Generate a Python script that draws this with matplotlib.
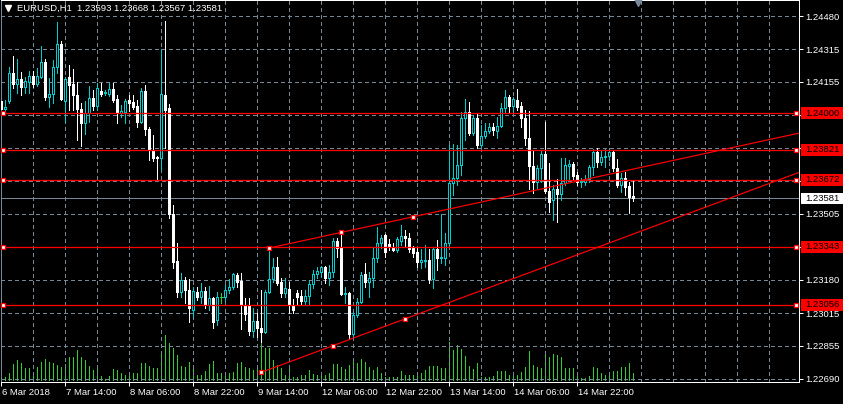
import matplotlib
matplotlib.use('Agg')
import matplotlib.pyplot as plt
from matplotlib.patches import Rectangle
from matplotlib.lines import Line2D
from matplotlib.transforms import blended_transform_factory, ScaledTranslation

W, H = 843, 404

symbol = 'EURUSD,H1'
opens = [1.24061, 1.24021, 1.24061, 1.24199, 1.24145, 1.24169, 1.24130, 1.24155, 1.24184, 1.24145,
         1.24179, 1.24253, 1.24081, 1.24095, 1.24229, 1.24342, 1.24061, 1.24179, 1.24145, 1.24091,
         1.24021, 1.23952, 1.24002, 1.24076, 1.24036, 1.24110, 1.24100, 1.24095, 1.24120, 1.24071,
         1.24002, 1.24007, 1.24066, 1.24056, 1.24036, 1.23957, 1.24110, 1.23923, 1.23819, 1.23785,
         1.23780, 1.24091, 1.24026, 1.23504, 1.23272, 1.23119, 1.23178, 1.23129, 1.23030, 1.23119,
         1.23094, 1.23124, 1.23055, 1.23090, 1.22981, 1.23094, 1.23094, 1.23129, 1.23144, 1.23203,
         1.23173, 1.23055, 1.23055, 1.22927, 1.22976, 1.22942, 1.22922, 1.23119, 1.23183, 1.23242,
         1.23168, 1.23114, 1.23134, 1.23055, 1.23114, 1.23099, 1.23075, 1.23099, 1.23159, 1.23208,
         1.23218, 1.23242, 1.23188, 1.23218, 1.23371, 1.23336, 1.23109, 1.23114, 1.22912, 1.23006,
         1.23070, 1.23208, 1.23168, 1.23188, 1.23287, 1.23361, 1.23400, 1.23356, 1.23341, 1.23326,
         1.23371, 1.23395, 1.23385, 1.23341, 1.23316, 1.23267, 1.23272, 1.23277, 1.23183, 1.23331,
         1.23287, 1.23287, 1.23361, 1.23657, 1.23681, 1.23745, 1.23977, 1.24007, 1.23903, 1.23977,
         1.23844, 1.23888, 1.23913, 1.23933, 1.23913, 1.23938, 1.24026, 1.24081, 1.24036, 1.24066,
         1.24036, 1.23977, 1.23879, 1.23740, 1.23662, 1.23731, 1.23800, 1.23617, 1.23573, 1.23627,
         1.23602, 1.23657, 1.23740, 1.23750, 1.23696, 1.23662, 1.23662, 1.23676, 1.23735, 1.23810,
         1.23760, 1.23785, 1.23790, 1.23810, 1.23731, 1.23647, 1.23681, 1.23642, 1.23593]
highs = [1.24071, 1.24066, 1.24229, 1.24283, 1.24268, 1.24204, 1.24179, 1.24209, 1.24209, 1.24224,
         1.24332, 1.24268, 1.24174, 1.24263, 1.24450, 1.24357, 1.24179, 1.24238, 1.24219, 1.24155,
         1.24051, 1.24061, 1.24135, 1.24115, 1.24150, 1.24150, 1.24115, 1.24150, 1.24150, 1.24091,
         1.24041, 1.24071, 1.24091, 1.24091, 1.24066, 1.24125, 1.24140, 1.23933, 1.23893, 1.23790,
         1.24317, 1.24455, 1.24046, 1.23548, 1.23361, 1.23213, 1.23193, 1.23183, 1.23144, 1.23144,
         1.23163, 1.23144, 1.23149, 1.23094, 1.23119, 1.23114, 1.23154, 1.23183, 1.23213, 1.23213,
         1.23213, 1.23090, 1.23090, 1.23040, 1.23016, 1.23129, 1.23129, 1.23326, 1.23287, 1.23292,
         1.23188, 1.23188, 1.23168, 1.23085, 1.23129, 1.23129, 1.23129, 1.23178, 1.23228, 1.23242,
         1.23247, 1.23247, 1.23252, 1.23385, 1.23385, 1.23410, 1.23144, 1.23119, 1.23021, 1.23090,
         1.23218, 1.23262, 1.23218, 1.23336, 1.23440, 1.23400, 1.23405, 1.23381, 1.23361, 1.23390,
         1.23450, 1.23425, 1.23410, 1.23346, 1.23341, 1.23331, 1.23351, 1.23331, 1.23336, 1.23376,
         1.23504, 1.23410, 1.23844, 1.23849, 1.23844, 1.24007, 1.24071, 1.24056, 1.23992, 1.23997,
         1.23943, 1.23952, 1.23952, 1.23952, 1.23982, 1.24051, 1.24115, 1.24091, 1.24081, 1.24120,
         1.24056, 1.24017, 1.24012, 1.23819, 1.23745, 1.23819, 1.23957, 1.23755, 1.23647, 1.23676,
         1.23780, 1.23780, 1.23770, 1.23760, 1.23711, 1.23681, 1.23696, 1.23745, 1.23824, 1.23829,
         1.23819, 1.23824, 1.23824, 1.23819, 1.23775, 1.23706, 1.23711, 1.23662, 1.23668]
lows = [1.24007, 1.24012, 1.24051, 1.24125, 1.24100, 1.24091, 1.24100, 1.24100, 1.24130, 1.24135,
        1.24174, 1.24066, 1.24031, 1.24051, 1.24199, 1.24066, 1.23957, 1.24017, 1.24017, 1.23869,
        1.23839, 1.23898, 1.23957, 1.24017, 1.24017, 1.24086, 1.24091, 1.24086, 1.24056, 1.23952,
        1.23982, 1.23952, 1.24012, 1.24021, 1.23933, 1.23952, 1.23893, 1.23770, 1.23765, 1.23676,
        1.23721, 1.23829, 1.23484, 1.23237, 1.23094, 1.23094, 1.23065, 1.22971, 1.22996, 1.23080,
        1.23065, 1.23040, 1.23030, 1.22942, 1.22956, 1.23065, 1.23075, 1.23114, 1.23134, 1.23144,
        1.22937, 1.22981, 1.22907, 1.22897, 1.22897, 1.22873, 1.22917, 1.23114, 1.23168, 1.23154,
        1.23094, 1.23094, 1.23016, 1.23016, 1.23055, 1.23055, 1.23055, 1.23055, 1.23139, 1.23188,
        1.23193, 1.23163, 1.23154, 1.23193, 1.23292, 1.23104, 1.23065, 1.22892, 1.22892, 1.22996,
        1.23065, 1.23144, 1.23094, 1.23144, 1.23267, 1.23336, 1.23292, 1.23326, 1.23321, 1.23316,
        1.23351, 1.23341, 1.23316, 1.23292, 1.23242, 1.23237, 1.23242, 1.23163, 1.23139, 1.23228,
        1.23262, 1.23252, 1.23351, 1.23597, 1.23647, 1.23696, 1.23869, 1.23893, 1.23893, 1.23829,
        1.23834, 1.23879, 1.23903, 1.23893, 1.23879, 1.23933, 1.24002, 1.24007, 1.24002, 1.24017,
        1.23933, 1.23844, 1.23627, 1.23607, 1.23632, 1.23662, 1.23607, 1.23514, 1.23474, 1.23464,
        1.23573, 1.23647, 1.23676, 1.23671, 1.23647, 1.23637, 1.23647, 1.23662, 1.23696, 1.23735,
        1.23745, 1.23735, 1.23770, 1.23716, 1.23637, 1.23612, 1.23597, 1.23509, 1.23567]
closes = [1.24021, 1.24031, 1.24199, 1.24145, 1.24169, 1.24130, 1.24160, 1.24184, 1.24145, 1.24184,
          1.24253, 1.24081, 1.24095, 1.24229, 1.24342, 1.24071, 1.24169, 1.24140, 1.24091, 1.24021,
          1.23952, 1.24002, 1.24076, 1.24036, 1.24125, 1.24095, 1.24105, 1.24120, 1.24066, 1.24002,
          1.24012, 1.24061, 1.24051, 1.24031, 1.23957, 1.24110, 1.23923, 1.23819, 1.23780, 1.23780,
          1.24095, 1.24017, 1.23504, 1.23267, 1.23119, 1.23178, 1.23129, 1.23040, 1.23124, 1.23094,
          1.23124, 1.23055, 1.23090, 1.22971, 1.23094, 1.23094, 1.23129, 1.23144, 1.23208, 1.23168,
          1.23055, 1.23011, 1.22927, 1.22976, 1.22942, 1.22922, 1.23119, 1.23183, 1.23242, 1.23163,
          1.23114, 1.23139, 1.23055, 1.23030, 1.23094, 1.23075, 1.23099, 1.23159, 1.23208, 1.23223,
          1.23242, 1.23188, 1.23218, 1.23371, 1.23336, 1.23109, 1.23114, 1.22912, 1.23006, 1.23070,
          1.23203, 1.23168, 1.23188, 1.23287, 1.23361, 1.23385, 1.23316, 1.23341, 1.23326, 1.23381,
          1.23395, 1.23385, 1.23331, 1.23312, 1.23267, 1.23277, 1.23277, 1.23183, 1.23331, 1.23287,
          1.23292, 1.23361, 1.23657, 1.23681, 1.23745, 1.23977, 1.24007, 1.23903, 1.23977, 1.23844,
          1.23888, 1.23913, 1.23933, 1.23918, 1.23938, 1.24026, 1.24081, 1.24036, 1.24071, 1.24031,
          1.23977, 1.23879, 1.23740, 1.23662, 1.23731, 1.23800, 1.23617, 1.23563, 1.23627, 1.23602,
          1.23657, 1.23745, 1.23750, 1.23691, 1.23662, 1.23666, 1.23676, 1.23735, 1.23810, 1.23760,
          1.23785, 1.23790, 1.23810, 1.23731, 1.23647, 1.23681, 1.23637, 1.23588, 1.23581]
volumes = [730, 330, 670, 1600, 2000, 1730, 1170, 1170, 830, 1330,
           1830, 2070, 1830, 1670, 1500, 1330, 1600, 2270, 2270, 3000,
           2330, 2000, 1400, 1000, 1170, 400, 100, 400, 1070, 1000,
           730, 500, 670, 670, 670, 1730, 1730, 1400, 1170, 1170,
           2670, 4500, 3670, 3170, 2500, 1400, 1270, 1830, 1400, 500,
           500, 930, 1600, 1930, 670, 670, 830, 730, 830, 1730,
           1830, 1330, 1170, 1000, 1270, 4000, 3170, 3170, 2000, 1500,
           1170, 500, 1400, 330, 330, 500, 500, 1000, 600, 500,
           830, 500, 670, 1600, 1600, 1330, 1070, 1500, 2070, 1670,
           2070, 1830, 1330, 1000, 1270, 670, 330, 330, 270, 330,
           930, 500, 500, 500, 500, 670, 1000, 1400, 1400, 1400,
           1170, 1170, 3830, 3000, 3500, 3070, 2400, 1400, 1070, 1730,
           270, 270, 330, 400, 930, 930, 930, 500, 500, 500,
           830, 1330, 2930, 1500, 1270, 1170, 2600, 2330, 2600, 2500,
           2330, 1170, 1170, 1170, 830, 170, 170, 400, 1270, 1170,
           670, 500, 400, 930, 930, 1270, 1270, 1730, 670]

time_labels = ['6 Mar 2018', '7 Mar 14:00', '8 Mar 06:00', '8 Mar 22:00', '9 Mar 14:00',
               '12 Mar 06:00', '12 Mar 22:00', '13 Mar 14:00', '14 Mar 06:00', '14 Mar 22:00']
time_bars = [0, 16, 32, 48, 64, 80, 96, 112, 128, 144]
price_ticks = [1.24480, 1.24315, 1.24155, 1.23990, 1.23830, 1.23665, 1.23505, 1.23340,
               1.23180, 1.23015, 1.22855, 1.22690]
h_levels = [1.24000, 1.23821, 1.23672, 1.23343, 1.23056]
trend_upper = [(67, 1.23336), (103, 1.23490)]
trend_lower = [(65, 1.22723), (101, 1.22987)]

BULL = '#00CED1'
BEAR = '#FFFFFF'
DOJI = '#32CD32'
VOLC = '#32CD32'
GRID = '#778899'
RED = '#FF0000'
PX = 0.72  # one pixel in points

fig = plt.figure(figsize=(W / 100, H / 100), dpi=100, facecolor='black')
left_px, right_px, top_px, bot_px = 0.5, 799.0, 0.0, 382.0
rect = [left_px / W, 1 - bot_px / H, (right_px - left_px) / W, (bot_px - top_px) / H]
axv = fig.add_axes(rect)
axv.set_facecolor('black')
ax = fig.add_axes(rect, sharex=axv)
ax.patch.set_visible(False)
axv.set_zorder(0)
ax.set_zorder(1)

n = len(opens)
x0 = 1.3
xmin = (left_px - x0) / 4.0
xmax = (right_px - x0) / 4.0
ax.set_xlim(xmin, xmax)
ymin, ymax = 1.226752, 1.245589
ax.set_ylim(ymin, ymax)
axv.set_ylim(-200, 38000)
axv.axis('off')
pxy = (ymax - ymin) / (bot_px - top_px)

# grid
for gx in range(0, 200, 8):
    ax.axvline(gx, color=GRID, lw=PX, ls=(0, (4, 3)), zorder=0.5, antialiased=False)
for gy in price_ticks:
    ax.axhline(gy, color=GRID, lw=PX, ls=(0, (4, 3)), zorder=0.5, antialiased=False)

# volumes
axv.vlines(range(n), 0, volumes, color=VOLC, lw=PX, antialiased=False)

# candles
for i in range(n):
    o, h, l, c = opens[i], highs[i], lows[i], closes[i]
    if c > o:
        col = BULL
    elif c < o:
        col = BEAR
    else:
        col = DOJI
    ax.vlines(i, l, h, color=col, lw=PX, zorder=2, antialiased=False)
    if c > o:
        ax.add_patch(Rectangle((i - 0.25, o), 0.5, c - o, facecolor='black', edgecolor=col,
                               lw=PX, zorder=3, antialiased=False))
    elif c < o:
        ax.add_patch(Rectangle((i - 0.25, c), 0.5, o - c, facecolor=col, edgecolor=col,
                               lw=PX, zorder=3, antialiased=False))
    else:
        ax.hlines(o, i - 0.375, i + 0.375, color=col, lw=PX, zorder=3, antialiased=False)

# current price line
last_price = closes[-1]
ax.axhline(last_price, color=GRID, lw=PX, zorder=1.5, snap=True)

# horizontal levels
lm = (3.3 - x0) / 4.0
rm = (796.3 - x0) / 4.0
for lv in h_levels:
    ax.axhline(lv, color=RED, lw=PX * 1.3, zorder=4, snap=True)
    ax.plot([lm, rm], [lv, lv], ls='none', marker='s', ms=3.3, mfc='white', mec=RED,
            mew=0.9, zorder=6, clip_on=False)

# trend lines (rays)
for (b1, p1), (b2, p2) in (trend_upper, trend_lower):
    slope = (p2 - p1) / (b2 - b1)
    ax.plot([b1, xmax], [p1, p1 + slope * (xmax - b1)], color=RED, lw=PX * 1.2, zorder=4)
    mids = [b1, (b1 + b2) / 2, b2]
    ax.plot(mids, [p1 + slope * (m - b1) for m in mids], ls='none', marker='s', ms=3.3,
            mfc='white', mec=RED, mew=0.9, zorder=6)

# spines
for s in ax.spines.values():
    s.set_color('white')
    s.set_linewidth(PX)
ax.spines['left'].set_color(GRID)

FONT = 'Liberation Sans'
FS = 6.8
ax.yaxis.tick_right()
ax.set_yticks(price_ticks)
# labels hidden behind the coloured level boxes are left blank
covered = [p for p in price_ticks
           if any(abs(p - lv) < 7 * pxy for lv in h_levels + [last_price])]
ax.set_yticklabels(['' if p in covered else f'{p:.5f}' for p in price_ticks])
ax.tick_params(axis='y', direction='out', length=3, width=PX, color='white', labelcolor='white',
               labelsize=FS, pad=1.5)
ax.set_xticks(time_bars)
ax.set_xticklabels(time_labels)
ax.tick_params(axis='x', direction='out', length=3, width=PX, color='white', labelcolor='white',
               labelsize=FS, pad=1.0)
for lab in ax.get_yticklabels() + ax.get_xticklabels():
    lab.set_fontfamily(FONT)
off = ScaledTranslation(0.8 / 100, 0, fig.dpi_scale_trans)
for lab in ax.get_xticklabels():
    lab.set_ha('left')
    lab.set_transform(lab.get_transform() + off)
axv.tick_params(left=False, labelleft=False, bottom=False, labelbottom=False)

# price-axis labels for levels
bt = blended_transform_factory(fig.transFigure, ax.transData)
for lv in h_levels:
    ax.add_patch(Rectangle((800.7 / W, lv - 6 * pxy), (W - 800.7) / W, 12 * pxy,
                           transform=bt, facecolor=RED, edgecolor='none',
                           clip_on=False, zorder=10))
    ax.text(805 / W, lv, f'{lv:.5f}', transform=bt, color='black', fontsize=FS,
            fontfamily=FONT, va='center', ha='left', zorder=11, clip_on=False)
ax.add_patch(Rectangle((800.7 / W, last_price - 5.5 * pxy), (W - 800.7) / W, 11 * pxy,
                       transform=bt, facecolor='white', edgecolor='none',
                       clip_on=False, zorder=10))
ax.text(805 / W, last_price, f'{last_price:.5f}', transform=bt, color='black', fontsize=FS,
        fontfamily=FONT, va='center', ha='left', zorder=11, clip_on=False)

# header
title = f'{symbol}  {opens[-1]:.5f} {highs[-1]:.5f} {lows[-1]:.5f} {closes[-1]:.5f}'
fig.text(17 / W, 1 - 8.5 / H, title, color='white', fontsize=FS, fontfamily=FONT,
         va='center', ha='left')
fig.add_artist(Line2D([8 / W], [1 - 7.5 / H], marker='v', ms=4.5, color='white',
                      mec='white', ls='none', transform=fig.transFigure))
fig.add_artist(Line2D([637.5 / W], [1 - 2 / H], marker='v', ms=6, color=GRID,
                      mec=GRID, ls='none', transform=fig.transFigure))

fig.savefig('out.png', dpi=100, facecolor='black')
